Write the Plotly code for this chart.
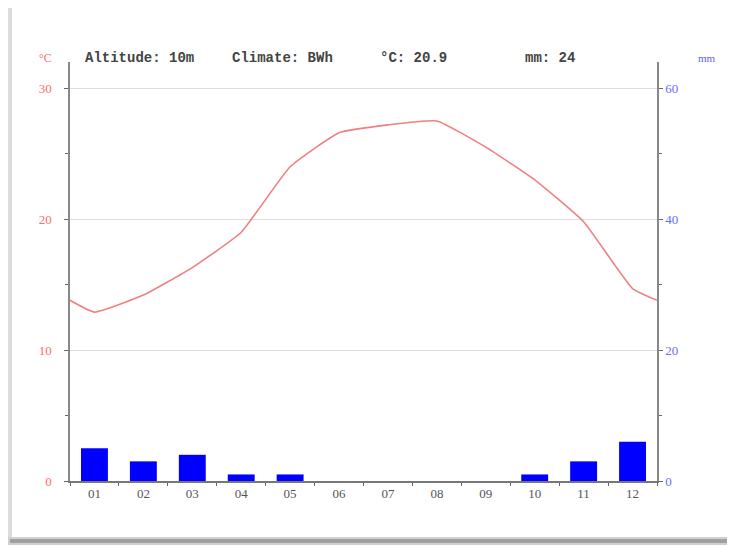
import plotly.graph_objects as go

months = ["01", "02", "03", "04", "05", "06", "07", "08", "09", "10", "11", "12"]
temp_c = [12.9, 14.2, 16.3, 19.0, 24.0, 26.6, 27.2, 27.5, 25.5, 23.0, 19.8, 14.7]
precip_mm = [5, 3, 4, 1, 1, 0, 0, 0, 0, 1, 3, 6]
header = ["Altitude: 10m", "Climate: BWh", "°C: 20.9", "mm: 24"]

OFF = 8  # default page body margin
W, H = 735 - OFF, 546 - OFF
# plot box in picture coordinates
PL, PR, PT, PB = 70, 657, 62, 481
L, R, T, B = PL - OFF, (OFF + W) - PR, PT - OFF, (OFF + H) - PB
pw, ph = PR - PL, PB - PT

def px(x):
    return (x - PL) / pw

def py(y):
    return (PB - y) / ph

xnum = list(range(1, 13))
edge = (temp_c[0] + temp_c[-1]) / 2
line_x = [0.5] + xnum + [12.5]
line_y = [edge] + temp_c + [edge]

fig = go.Figure()
fig.add_trace(go.Bar(x=xnum, y=precip_mm, yaxis="y2", marker=dict(color="#0000ff", line=dict(width=0)),
                     width=0.55, showlegend=False))
fig.add_trace(go.Scatter(x=line_x, y=line_y, mode="lines",
                         line=dict(color="#f08080", width=1.6, shape="spline", smoothing=0.4),
                         showlegend=False))

font = "Liberation Mono, Courier New, monospace"
serif = "Liberation Serif, DejaVu Serif, serif"
fig.update_layout(
    width=W, height=H, margin=dict(l=L, r=R, t=T, b=B),
    paper_bgcolor="white", plot_bgcolor="white",
    font=dict(family=font, size=12, color="#444"),
    xaxis=dict(range=[0.5, 12.5], tickmode="array", tickvals=xnum, ticktext=months, ticks="", showgrid=False,
               showline=True, linecolor="#777", linewidth=1.5, zeroline=False,
               tickfont=dict(family=serif, size=13, color="#555"),
               minor=dict(tick0=0.5, dtick=1, ticks="outside", ticklen=3, tickcolor="#666", showgrid=False)),
    yaxis=dict(range=[0, 32], tickvals=[0, 10, 20, 30], showgrid=True, gridcolor="#dddddd", gridwidth=1,
               showline=True, linecolor="#888", linewidth=1.5, zeroline=False, ticks="outside", ticklen=4,
               tickcolor="#666", tickfont=dict(family=serif, size=13, color="#ff6a6a"), ticklabelstandoff=10,
               minor=dict(dtick=5, ticks="outside", ticklen=3, tickcolor="#666", showgrid=False)),
    yaxis2=dict(range=[0, 64], tickvals=[0, 20, 40, 60], overlaying="y", side="right", showgrid=False,
                showline=True, linecolor="#888", linewidth=1.5, zeroline=False, ticks="outside", ticklen=4,
                tickcolor="#666", tickfont=dict(family=serif, size=13, color="#6a6aff"),
                minor=dict(dtick=10, ticks="outside", ticklen=3, tickcolor="#666")),
)

# header texts
hx = [83, 230, 378, 523]
for t, x in zip(header, hx):
    fig.add_annotation(text="<b>" + t + "</b>", x=px(x), y=py(58), xref="paper", yref="paper",
                       xanchor="left", yanchor="middle",
                       showarrow=False, font=dict(family=font, size=14, color="#444"))
fig.add_annotation(text="°C", x=px(45), y=py(58), xref="paper", yref="paper", xanchor="center", yanchor="middle",
                   showarrow=False, font=dict(family=serif, size=12, color="#ff6a6a"))
fig.add_annotation(text="mm", x=px(707), y=py(58), xref="paper", yref="paper", xanchor="center", yanchor="middle",
                   showarrow=False, font=dict(family=serif, size=11, color="#5a5aff"))

# card shadow
shapes = [
    dict(type="rect", xref="paper", yref="paper", x0=px(8), x1=px(12), y0=py(545), y1=py(5),
         fillcolor="#dcdcdc", line=dict(width=0), layer="below"),
    dict(type="rect", xref="paper", yref="paper", x0=px(8), x1=px(735), y0=py(545), y1=py(537),
         fillcolor="#d0d0d0", line=dict(width=0), layer="below"),
    dict(type="rect", xref="paper", yref="paper", x0=px(10), x1=px(735), y0=py(543), y1=py(539),
         fillcolor="#a0a0a0", line=dict(width=0), layer="below"),
    dict(type="line", xref="paper", yref="paper", x0=px(13), x1=px(735), y0=py(4), y1=py(4),
         line=dict(color="#eeeeee", width=1), layer="below"),
]
fig.update_layout(shapes=shapes)

fig.write_html("out.html")
